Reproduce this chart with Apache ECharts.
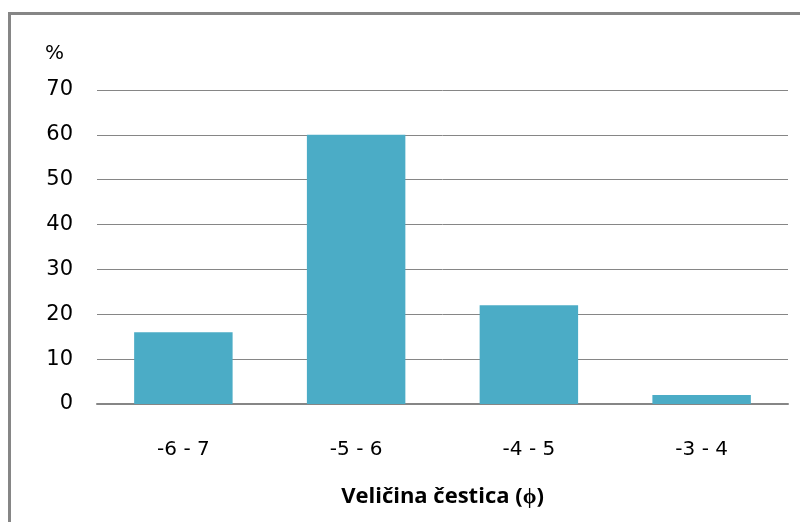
<!DOCTYPE html>
<html>
<head>
<meta charset="utf-8">
<script src="https://cdn.jsdelivr.net/npm/echarts@6/dist/echarts.min.js"></script>
<style>html,body{margin:0;padding:0;background:#fff}#c{width:800px;height:522px}</style>
</head>
<body>
<div id="c"></div>
<script>
const categories = ['-6 - 7', '-5 - 6', '-4 - 5', '-3 - 4'];
const values = [16, 60, 22, 2];
const yTicks = { min: 0, max: 70, interval: 10 };
const xTitle = 'Veličina čestica (ϕ)';
const yUnit = '%';

const chart = echarts.init(document.getElementById('c'), null, { renderer: 'canvas' });
chart.setOption({
  animation: false,
  backgroundColor: '#ffffff',
  textStyle: { fontFamily: 'DejaVu Sans' },
  grid: { left: 97, right: 12, top: 90, bottom: 118, containLabel: false },
  graphic: [
    { type: 'rect', shape: { x: 9.5, y: 13.5, width: 820, height: 540 }, style: { fill: 'none', stroke: '#868686', lineWidth: 3 }, silent: true },
    { type: 'text', left: 45, top: 44, style: { text: yUnit, font: '20px "DejaVu Sans"', fill: '#000' } }
  ],
  xAxis: {
    type: 'category',
    data: categories,
    axisLine: { show: true, lineStyle: { color: '#868686', width: 2 } },
    axisTick: { show: false },
    axisLabel: { color: '#000', fontSize: 20, margin: 36, fontFamily: 'DejaVu Sans' },
    name: xTitle,
    nameLocation: 'middle',
    nameGap: 82,
    nameTextStyle: { color: '#000', fontSize: 22, fontWeight: 'bold', fontFamily: 'Open Sans' }
  },
  yAxis: {
    type: 'value',
    min: yTicks.min, max: yTicks.max, interval: yTicks.interval,
    axisLine: { show: false },
    axisTick: { show: false },
    axisLabel: { color: '#000', fontSize: 21, margin: 24, padding: [4, 0, 0, 0], fontFamily: 'DejaVu Sans' },
    splitLine: { lineStyle: { color: '#868686', width: 1 } }
  },
  series: [{
    type: 'bar',
    data: values,
    barWidth: '57%',
    itemStyle: { color: '#4BACC6' }
  }]
});
</script>
</body>
</html>
